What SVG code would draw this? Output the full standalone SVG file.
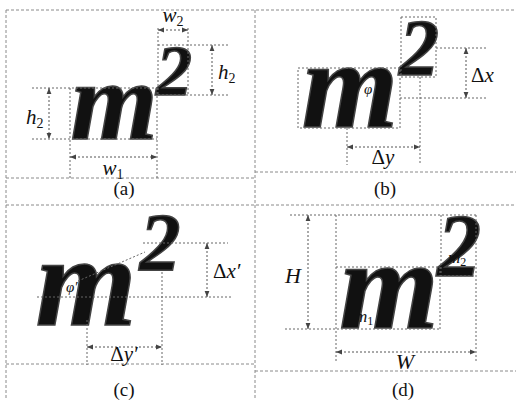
<svg xmlns="http://www.w3.org/2000/svg" width="516" height="400" viewBox="0 0 516 400">
<defs>
<marker id="ah" viewBox="0 0 10 10" refX="10" refY="5" markerWidth="6" markerHeight="6" orient="auto-start-reverse" markerUnits="userSpaceOnUse"><path d="M0,1 L10,5 L0,9 z" fill="#444"/></marker>
</defs>

<g id="frame" stroke="#8a8a8a" stroke-width="1" stroke-dasharray="3 2" fill="none">
<line x1="6" y1="10" x2="516" y2="10"/>
<line x1="6" y1="10" x2="6" y2="400"/>
<line x1="255" y1="10" x2="255" y2="400"/>
<line x1="6" y1="178" x2="255" y2="178"/>
<line x1="255" y1="172" x2="516" y2="172"/>
<line x1="6" y1="205" x2="516" y2="205"/>
<line x1="6" y1="364" x2="255" y2="364"/>
<line x1="255" y1="371" x2="516" y2="371"/>
</g>

<g id="glyphs" font-family="Liberation Serif" font-style="italic" font-weight="bold" fill="#111" stroke="#444" stroke-width="1.5" text-anchor="middle">
<g id="panel-a">
<text x="114" y="139" font-size="112">m</text>
<text x="174" y="95" font-size="72">2</text>
</g>
<g id="panel-b">
<text x="350" y="127" font-size="124">m</text>
<text x="419" y="75" font-size="80">2</text>
</g>
<g id="panel-c">
<text x="86" y="325" font-size="130">m</text>
<text x="160" y="270" font-size="82">2</text>
</g>
<g id="panel-d">
<text x="389" y="328" font-size="128">m</text>
<text x="459" y="275" font-size="88">2</text>
</g>
</g>

<g id="connectors" fill="none" stroke-width="1" stroke-dasharray="2 2">
<g stroke="#666">
<path d="M32,88 H157 M32,139 H157 M70,88 V178 M157,88 V178"/>
<path d="M158,28 V95 M188,28 V95 M158,45 H228 M158,95 H228"/>
<rect x="298" y="68" width="102" height="60"/>
<rect x="401" y="17" width="35" height="60"/>
<path d="M436,48 H488 M400,98 H488 M347,128 V165 M420,77 V165"/>
<path d="M143,243 H228 M37,297 H232 M87,320 V365 M162,272 V365 M78,281 L145,252"/>
<path d="M290,215 H476 M336,215 V363 M336,267 H440 V329 M285,329 H440 M441,215 V276 M440,276 H476 M476,215 V363"/>
</g>
<g stroke="#555" marker-start="url(#ah)" marker-end="url(#ah)">
<line x1="49" y1="88" x2="49" y2="139"/>
<line x1="70" y1="157" x2="157" y2="157"/>
<line x1="158" y1="30" x2="188" y2="30"/>
<line x1="212" y1="45" x2="212" y2="95"/>
<line x1="466" y1="48" x2="466" y2="98"/>
<line x1="347" y1="147" x2="420" y2="147"/>
<line x1="207" y1="243" x2="207" y2="297"/>
<line x1="87" y1="347" x2="162" y2="347"/>
<line x1="308" y1="215" x2="308" y2="329"/>
<line x1="336" y1="352" x2="476" y2="352"/>
</g>
</g>

<g id="labels" font-family="Liberation Serif" font-size="21" fill="#111">
<text x="124" y="195" font-size="19" text-anchor="middle">(a)</text>
<text x="385" y="195" font-size="19" text-anchor="middle">(b)</text>
<text x="124" y="396" font-size="19" text-anchor="middle">(c)</text>
<text x="403" y="396" font-size="19" text-anchor="middle">(d)</text>
<text x="364" y="94" font-size="15" font-style="italic">φ</text>
<text x="66" y="292" font-size="15" font-style="italic">φ′</text>
<text x="355" y="322" font-size="17" font-style="italic">m<tspan font-size="12" font-style="normal" dy="3">1</tspan></text>
<text x="448" y="263" font-size="17" font-style="italic">m<tspan font-size="12" font-style="normal" dy="3">2</tspan></text>
<text x="26" y="124" font-style="italic">h<tspan font-size="14" font-style="normal" dy="4">2</tspan></text>
<text x="113" y="175" font-style="italic" text-anchor="middle">w<tspan font-size="14" font-style="normal" dy="4">1</tspan></text>
<text x="173" y="22" font-style="italic" text-anchor="middle">w<tspan font-size="14" font-style="normal" dy="4">2</tspan></text>
<text x="218" y="79" font-style="italic">h<tspan font-size="14" font-style="normal" dy="4">2</tspan></text>
<text x="471" y="82">Δ<tspan font-style="italic">x</tspan></text>
<text x="383" y="164" text-anchor="middle">Δ<tspan font-style="italic">y</tspan></text>
<text x="213" y="278">Δ<tspan font-style="italic">x′</tspan></text>
<text x="124" y="361" text-anchor="middle">Δ<tspan font-style="italic">y′</tspan></text>
<text x="285" y="283" font-size="22" font-style="italic">H</text>
<text x="405" y="369" font-size="22" font-style="italic" text-anchor="middle">W</text>
</g>
</svg>
